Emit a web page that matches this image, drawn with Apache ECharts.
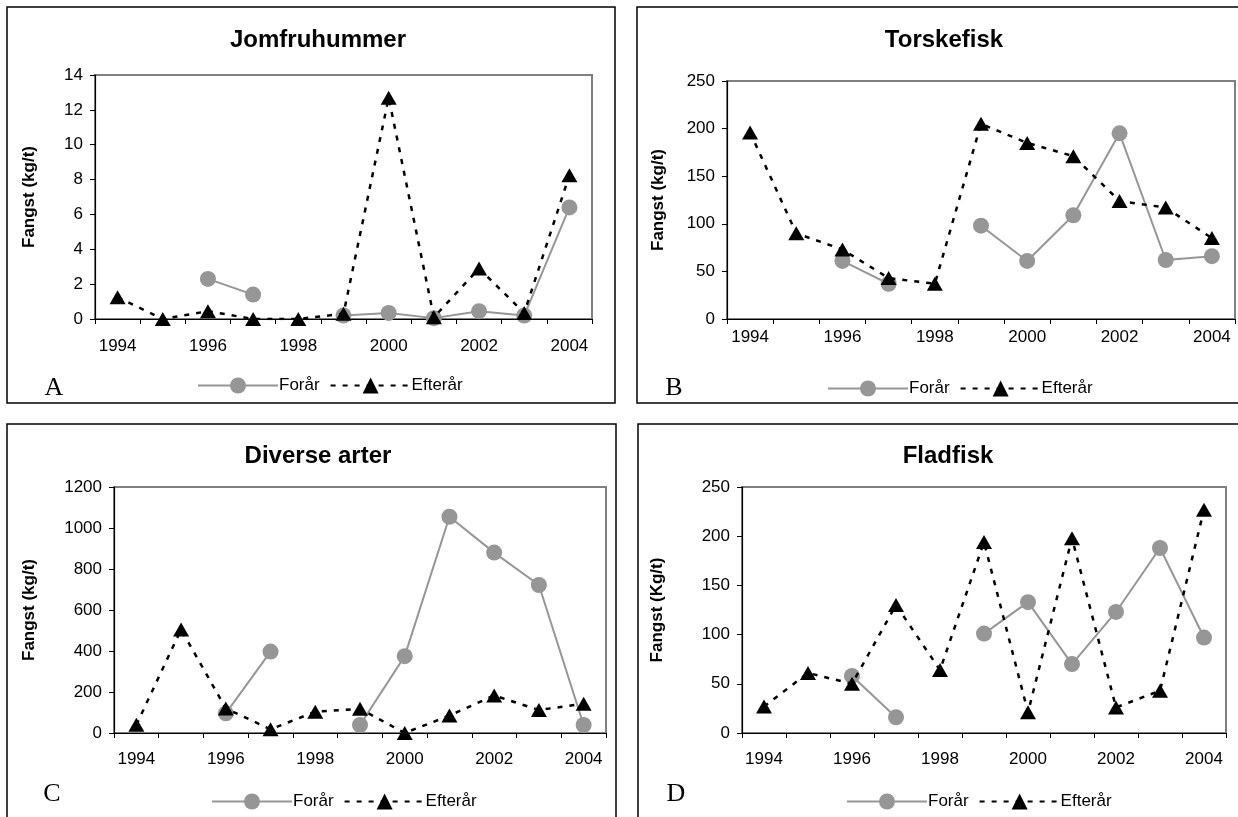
<!DOCTYPE html>
<html>
<head>
<meta charset="utf-8">
<script src="https://cdn.jsdelivr.net/npm/echarts@6/dist/echarts.min.js"></script>
<style>
html,body{margin:0;padding:0;background:#fff;}
#chart{width:1238px;height:817px;}
</style>
</head>
<body>
<div id="chart"></div>
<script>
// ---- data ----
const years = ['1994','1995','1996','1997','1998','1999','2000','2001','2002','2003','2004'];
const seriesNames = ['Forår', 'Efterår'];
const panelTitles = ['Jomfruhummer', 'Torskefisk', 'Diverse arter', 'Fladfisk'];
const panelLetters = ['A', 'B', 'C', 'D'];
const yAxisNames = ['Fangst (kg/t)', 'Fangst (kg/t)', 'Fangst (kg/t)', 'Fangst (Kg/t)'];
const yMax = [14, 250, 1200, 250];
const yStep = [2, 50, 200, 50];

const jomfruForar   = [null, null, 2.3, 1.4, null, 0.2, 0.35, 0.05, 0.45, 0.2, 6.4];
const jomfruEfterar = [1.25, 0, 0.45, 0, 0, 0.3, 12.7, 0.1, 2.9, 0.35, 8.25];
const torskForar    = [null, null, 61, 37, null, 98, 61, 109, 195, 62, 66];
const torskEfterar  = [196, 90, 73, 43, 37, 205, 185, 171, 124, 117, 85];
const diverseForar  = [null, null, 96, 397, null, 39, 375, 1055, 880, 722, 39];
const diverseEfterar= [40, 505, 120, 18, 104, 118, 0, 85, 183, 112, 143];
const fladForar     = [null, null, 58, 16, null, 101, 133, 70, 123, 188, 97];
const fladEfterar   = [27, 61, 50, 130, 64, 194, 21, 198, 26, 43, 227];

const forarData = [jomfruForar, torskForar, diverseForar, fladForar];
const efterarData = [jomfruEfterar, torskEfterar, diverseEfterar, fladEfterar];

// ---- layout ----
const grids = [
  {left: 95,  top: 75,  width: 497, height: 244},
  {left: 727, top: 81,  width: 508, height: 238},
  {left: 114, top: 487, width: 492, height: 246},
  {left: 742, top: 487, width: 484, height: 246}
];
const titlePos = [[313, 23], [939, 23], [313, 439], [943, 439]];
const legendTop = [372, 375, 788, 788];
const legendLeft = [192, 822, 206, 841];
const xLabelMargin = [19, 10, 18, 18];
const nameGaps = [57, 60, 76, 76];
const letterPos = [[54, 388], [674, 388], [52, 794], [676, 794]];
const panelRects = [
  {x: 7, y: 7, width: 608, height: 396},
  {x: 637, y: 7, width: 620, height: 396},
  {x: 7, y: 424, width: 609, height: 420},
  {x: 638, y: 424, width: 620, height: 420}
];

const FONT = '"Liberation Sans", Arial, sans-serif';
const GRAY = '#969696';

const option = {
  animation: false,
  backgroundColor: '#fff',
  title: [], grid: [], xAxis: [], yAxis: [], series: [], legend: [], graphic: []
};

for (let i = 0; i < 4; i++) {
  option.title.push({
    text: panelTitles[i], left: titlePos[i][0], top: titlePos[i][1], textAlign: 'center',
    textStyle: {fontFamily: FONT, fontWeight: 'bold', fontSize: 24, color: '#000'}
  });
  option.grid.push(Object.assign({show: true, borderColor: '#808080', borderWidth: 2, backgroundColor: '#fff'}, grids[i]));
  option.xAxis.push({
    type: 'category', gridIndex: i, data: years, boundaryGap: true,
    axisLine: {lineStyle: {color: '#000', width: 1.2}},
    axisTick: {show: true, interval: 0, length: 5, lineStyle: {color: '#000'}},
    axisLabel: {interval: 1, margin: xLabelMargin[i], fontFamily: FONT, fontSize: 17, color: '#000'},
    splitLine: {show: false}
  });
  option.yAxis.push({
    type: 'value', gridIndex: i, min: 0, max: yMax[i], interval: yStep[i],
    name: yAxisNames[i], nameLocation: 'middle', nameGap: nameGaps[i], nameRotate: 90,
    nameTextStyle: {fontFamily: FONT, fontWeight: 'bold', fontSize: 17, color: '#000'},
    axisLine: {show: true, lineStyle: {color: '#000', width: 1.2}},
    axisTick: {show: true, length: 5, lineStyle: {color: '#000'}},
    axisLabel: {margin: 12, fontFamily: FONT, fontSize: 17, color: '#000', formatter: v => String(v)},
    splitLine: {show: false}
  });
  option.series.push({
    name: seriesNames[0], type: 'line', xAxisIndex: i, yAxisIndex: i, data: forarData[i],
    connectNulls: false, symbol: 'circle', symbolSize: 16,
    itemStyle: {color: GRAY}, lineStyle: {color: GRAY, width: 2}, z: 2
  });
  option.series.push({
    name: seriesNames[1], type: 'line', xAxisIndex: i, yAxisIndex: i, data: efterarData[i],
    connectNulls: false, symbol: 'triangle', symbolSize: [16, 14],
    itemStyle: {color: '#000'}, lineStyle: {color: '#000', width: 2.5, type: [5, 7]}, z: 3
  });
  option.legend.push({
    data: seriesNames, left: legendLeft[i], top: legendTop[i],
    itemWidth: 80, itemHeight: 20, itemGap: 10,
    textStyle: {fontFamily: FONT, fontSize: 17, color: '#000', padding: [0,0,0,-4]},
    selectedMode: false
  });
  option.graphic.push({
    type: 'rect', shape: panelRects[i], silent: true,
    style: {fill: 'none', stroke: '#000', lineWidth: 1.5}, z: -1
  });
  option.graphic.push({
    type: 'text', x: letterPos[i][0], y: letterPos[i][1], silent: true,
    style: {text: panelLetters[i], fontFamily: '"Liberation Serif", "Times New Roman", serif', fontSize: 26,
            fill: '#000', textAlign: 'center', textVerticalAlign: 'middle'}
  });
}

const chart = echarts.init(document.getElementById('chart'), null, {renderer: 'canvas'});
chart.setOption(option);
</script>
</body>
</html>
